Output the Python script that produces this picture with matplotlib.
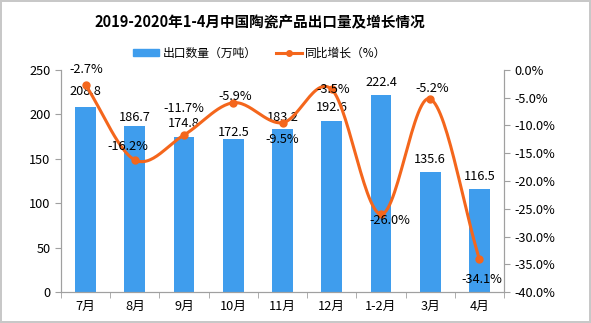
import numpy as np
import matplotlib.pyplot as plt
from matplotlib.patches import Patch
from matplotlib.lines import Line2D

plt.rcParams['font.family'] = ['Noto Sans CJK SC', 'DejaVu Sans']

months = ['7月', '8月', '9月', '10月', '11月', '12月', '1-2月', '3月', '4月']
export_qty = [208.8, 186.7, 174.8, 172.5, 183.2, 192.6, 222.4, 135.6, 116.5]
yoy_growth = [-2.7, -16.2, -11.7, -5.9, -9.5, -3.5, -26.0, -5.2, -34.1]

bar_color = '#3f9ded'
line_color = '#f4661c'
axis_color = '#a0a0a0'
fs = 9.2


def catmull_rom(x, y, n=30):
    # smooth curve through the points, like excel's smoothed line
    px = np.concatenate([[2 * x[0] - x[1]], x, [2 * x[-1] - x[-2]]])
    py = np.concatenate([[2 * y[0] - y[1]], y, [2 * y[-1] - y[-2]]])
    xs, ys = [], []
    for i in range(1, len(px) - 2):
        t = np.linspace(0, 1, n)
        for p, out in ((px, xs), (py, ys)):
            p0, p1, p2, p3 = p[i - 1], p[i], p[i + 1], p[i + 2]
            out.extend(0.5 * (2 * p1 + (-p0 + p2) * t
                              + (2 * p0 - 5 * p1 + 4 * p2 - p3) * t ** 2
                              + (-p0 + 3 * p1 - 3 * p2 + p3) * t ** 3))
    return np.array(xs), np.array(ys)


fig = plt.figure(figsize=(5.91, 3.23), dpi=100)
fig.patch.set_edgecolor('#c8c8c8')
fig.patch.set_linewidth(1.5)
ax = fig.add_axes([61 / 591, 1 - 292 / 323, 443 / 591, 222 / 323])
ax2 = ax.twinx()

x = np.arange(len(months))
ax.bar(x, export_qty, width=0.42, color=bar_color, zorder=2)
ax.set_xlim(-0.5, len(months) - 0.5)
ax.set_ylim(0, 250)
ax.set_yticks(range(0, 251, 50))
ax.set_xticks(x)
ax.set_xticklabels(months, fontsize=fs)
ax.set_xticks(np.arange(-0.5, len(months), 1), minor=True)
ax.tick_params(axis='x', which='major', length=0, pad=6)
ax.tick_params(axis='x', which='minor', length=4, color=axis_color)
ax.tick_params(axis='y', length=4, color=axis_color, labelsize=fs)

sx, sy = catmull_rom(x.astype(float), np.array(yoy_growth))
ax2.plot(sx, sy, color=line_color, lw=2.2, zorder=3)
ax2.plot(x, yoy_growth, 'o', color=line_color, ms=5, zorder=4)
ax2.set_ylim(-40, 0)
ax2.set_yticks(range(-40, 1, 5))
ax2.set_yticklabels([f'{v:.1f}%' for v in range(-40, 1, 5)])
ax2.tick_params(axis='y', length=4, color=axis_color, labelsize=fs)

for a in (ax, ax2):
    a.spines['top'].set_visible(False)
    for s in ('left', 'right', 'bottom'):
        a.spines[s].set_color(axis_color)

bar_offsets = [15, 9, 13, 6, 12, 13, 12, 12, 12]
for xi, v, off in zip(x, export_qty, bar_offsets):
    ax.annotate(f'{v:.1f}', (xi, v), xytext=(0, off), textcoords='offset pixels',
                ha='center', va='center', fontsize=fs, zorder=5)

# label offsets (pixels) for the growth labels
line_offsets = [(1, 15), (-7, 13), (0, 26), (2, 6), (0, -17),
                (1, 0), (9, -6), (2, 10), (2, -20)]
for xi, v, (dx, dy) in zip(x, yoy_growth, line_offsets):
    ax2.annotate(f'{v:.1f}%', (xi, v), xytext=(dx, dy), textcoords='offset pixels',
                 ha='center', va='center', fontsize=fs, zorder=6)

fig.text(0.44, 1 - 22 / 323, '2019-2020年1-4月中国陶瓷产品出口量及增长情况',
         ha='center', va='center', fontsize=10.5, fontweight='bold')

handles = [Patch(color=bar_color, label='出口数量（万吨）'),
           Line2D([], [], color=line_color, lw=2.2, marker='o', ms=4, label='同比增长（%）')]
fig.legend(handles=handles, loc='center', bbox_to_anchor=(0.44, 1 - 53 / 323), ncol=2,
           frameon=False, fontsize=8.5, handlelength=2.2, handleheight=0.5,
           columnspacing=1.6, handletextpad=0.3)

fig.savefig('out.png', dpi=100)
